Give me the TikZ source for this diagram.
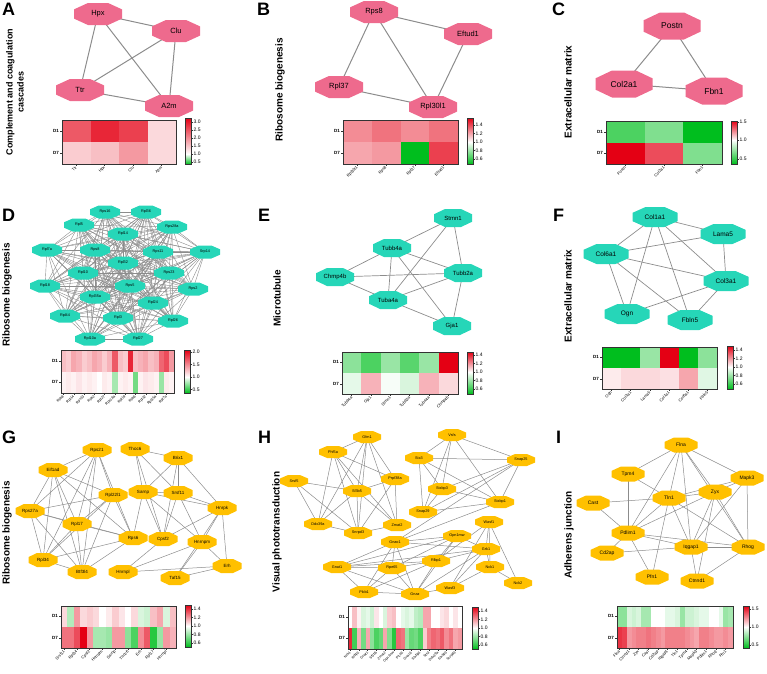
\documentclass[tikz,border=0pt]{standalone}
\usepackage{fontspec}
\setmainfont{Liberation Sans}
\usetikzlibrary{calc,backgrounds}

\definecolor{pinkc}{RGB}{238,106,141}
\definecolor{tealc}{RGB}{38,214,184}
\definecolor{goldc}{RGB}{255,192,0}
\definecolor{hr}{RGB}{228,0,20}
\definecolor{hg}{RGB}{0,190,30}
\definecolor{edgec}{RGB}{140,140,140}

% octagon drawn inside the node box
\newcommand{\octfill}[1]{%
  \fill[#1]
    ($(path picture bounding box.north west)!.29!(path picture bounding box.north east)$) --
    ($(path picture bounding box.north west)!.71!(path picture bounding box.north east)$) --
    ($(path picture bounding box.north east)!.29!(path picture bounding box.south east)$) --
    ($(path picture bounding box.north east)!.71!(path picture bounding box.south east)$) --
    ($(path picture bounding box.south east)!.29!(path picture bounding box.south west)$) --
    ($(path picture bounding box.south east)!.71!(path picture bounding box.south west)$) --
    ($(path picture bounding box.south west)!.29!(path picture bounding box.north west)$) --
    ($(path picture bounding box.south west)!.71!(path picture bounding box.north west)$) -- cycle;}

% one heatmap row: x0, y0, cell width, cell height, colours
\newcommand{\hmrow}[5]{%
  \foreach \c [count=\i] in {#5}
    \fill[\c] ({#1+(\i-1)*#3},#2) rectangle ++(#3,#4);}

% D1/D7 labels: x0, y of D1, y of D7
\newcommand{\rowlabs}[3]{%
  \draw[frame] ({#1-2},#2) -- (#1,#2) ({#1-2},#3) -- (#1,#3);
  \node[rowlab] at ({#1-3},#2) {D1};
  \node[rowlab] at ({#1-3},#3) {D7};}

% column labels: first x, step, y, labels
\newcommand{\collabs}[4]{%
  \foreach \t [count=\i] in {#4} {
    \draw[frame] ({#1+(\i-1)*#2},#3) -- ++(0,2);
    \node[collab] at ({#1+(\i-1)*#2},{#3+3}) {\t};}}

% colour bar: x, top, white level, bottom
\newcommand{\cbar}[4]{%
  \shade[top color=hr, bottom color=white] (#1,#2) rectangle ({#1+6},#3);
  \shade[top color=white, bottom color=hg] (#1,#3) rectangle ({#1+6},#4);
  \draw[frame] (#1,#2) rectangle ({#1+6},#4);}

% colour bar ticks: x, value/y list
\newcommand{\cbarlabs}[2]{%
  \foreach \v/\y in {#2} {
    \draw[frame] ({#1+6},\y) -- ++(2,0);
    \node[cblab] at ({#1+8},\y) {\v};}}

\tikzset{
  octo/.style={rectangle, inner sep=0pt, path picture={\octfill{#1}}},
  pinkA/.style={octo=pinkc, minimum width=48pt, minimum height=22pt, font=\fontsize{7.5}{8}\selectfont},
  pinkC/.style={octo=pinkc, minimum width=57pt, minimum height=27pt, font=\fontsize{8.5}{9}\selectfont},
  tealD/.style={octo=tealc, minimum width=30pt, minimum height=13pt, font=\fontsize{3.8}{4}\selectfont},
  tealE/.style={octo=tealc, minimum width=38pt, minimum height=18pt, font=\fontsize{6}{7}\selectfont},
  tealF/.style={octo=tealc, minimum width=45pt, minimum height=20pt, font=\fontsize{6.5}{7}\selectfont},
  goldG/.style={octo=goldc, minimum width=29pt, minimum height=14pt, font=\fontsize{4.5}{5}\selectfont},
  goldH/.style={octo=goldc, minimum width=28pt, minimum height=12pt, font=\fontsize{3.8}{4}\selectfont},
  goldI/.style={octo=goldc, minimum width=33pt, minimum height=15pt, font=\fontsize{5}{6}\selectfont},
  edgeA/.style={edgec, line width=1pt},
  edgeB/.style={edgec, line width=0.7pt},
  edgeD/.style={edgec, line width=0.4pt},
  edgeG/.style={edgec, line width=0.5pt},
  frame/.style={black!80, line width=0.6pt},
  letter/.style={anchor=base west, inner sep=0pt, font=\fontsize{18}{18}\selectfont\bfseries},
  title/.style={rotate=90, inner sep=0pt, font=\fontsize{10}{12}\selectfont\bfseries},
  rowlab/.style={anchor=east, inner sep=0pt, font=\fontsize{4.5}{5}\selectfont\bfseries},
  collab/.style={rotate=45, anchor=east, inner sep=0pt, font=\fontsize{4}{5}\selectfont},
  cblab/.style={anchor=west, inner sep=0.5pt, font=\fontsize{5}{6}\selectfont},
}

\begin{document}
\begin{tikzpicture}[x=1pt,y=-1pt]
\useasboundingbox (0,0) rectangle (767,673);

% ---------- A
\node[letter] (labA) at (2,15) {A};
\node[title, align=center, font=\fontsize{9}{11}\selectfont\bfseries] (titA) at (15,92) {Complement and coagulation\\cascades};
\node[pinkA] (aHpx) at (98,14) {Hpx};
\node[pinkA] (aClu) at (176,31) {Clu};
\node[pinkA] (aTtr) at (80,90) {Ttr};
\node[pinkA] (aA2m) at (169,106) {A2m};
\begin{scope}[on background layer]
  \foreach \a/\b in {aHpx/aClu,aHpx/aTtr,aHpx/aA2m,aClu/aTtr,aClu/aA2m,aTtr/aA2m}
    \draw[edgeA] (\a.center) -- (\b.center);
\end{scope}
\hmrow{62}{120}{28.5}{22}{hr!65,hr!85,hr!75,hr!15}
\hmrow{62}{142}{28.5}{22}{hr!20,hr!25,hr!40,hr!15}
\draw[frame] (62,120) rectangle (176,164);
\rowlabs{62}{131}{153}
\collabs{76.25}{28.5}{164}{Ttr,Hpx,Clu,A2m}
\cbar{185}{118}{154}{164}
\cbarlabs{185}{3.0/122,2.5/130,2.0/138,1.5/146,1.0/154,0.5/162}

% ---------- B
\node[letter] (labB) at (257,15) {B};
\node[title] (titB) at (280,90) {Ribosome biogenesis};
\node[pinkA] (bRps8) at (374,12) {Rps8};
\node[pinkA] (bEftud1) at (468,34) {Eftud1};
\node[pinkA] (bRpl37) at (339,87) {Rpl37};
\node[pinkA] (bRpl30l1) at (433,107) {Rpl30l1};
\begin{scope}[on background layer]
  \foreach \a/\b in {bRps8/bEftud1,bRps8/bRpl37,bRps8/bRpl30l1,bEftud1/bRpl30l1,bRpl37/bRpl30l1}
    \draw[edgeA] (\a.center) -- (\b.center);
\end{scope}
\hmrow{343}{120}{28.75}{22}{hr!45,hr!55,hr!45,hr!55}
\hmrow{343}{142}{28.75}{22}{hr!35,hr!40,hg,hr!75}
\draw[frame] (343,120) rectangle (458,164);
\rowlabs{343}{131}{153}
\collabs{357.4}{28.75}{164}{Rpl30l1,Rps8,Rpl37,Eftud1}
\cbar{467}{118}{142}{164}
\cbarlabs{467}{1.4/125,1.2/133.5,1.0/142,0.8/150.5,0.6/159}

% ---------- C
\node[letter] (labC) at (552,15) {C};
\node[title] (titC) at (568,92) {Extracellular matrix};
\node[pinkC] (cPostn) at (672,26) {Postn};
\node[pinkC] (cCol2a1) at (624,84) {Col2a1};
\node[pinkC] (cFbn1) at (714,91) {Fbn1};
\begin{scope}[on background layer]
  \foreach \a/\b in {cPostn/cCol2a1,cPostn/cFbn1,cCol2a1/cFbn1}
    \draw[edgeA] (\a.center) -- (\b.center);
\end{scope}
\hmrow{606}{121}{38.67}{21.5}{hg!70,hg!50,hg}
\hmrow{606}{142.5}{38.67}{21.5}{hr,hr!70,hg!50}
\draw[frame] (606,121) rectangle (722,164);
\rowlabs{606}{132}{153}
\collabs{625.3}{38.67}{164}{Postn,Col2a1,Fbn1}
\cbar{731}{121}{140}{164}
\cbarlabs{731}{1.5/122,1.0/140,0.5/159}

% ---------- D
\node[letter] (labD) at (2,221) {D};
\node[title] (titD) at (7,295) {Ribosome biogenesis};
\foreach \t/\x/\y [count=\k] in {Rps16/105/212,Rpl36/146/212,Rpl5/79/225,Rps28a/172/227,
    Rpl14/123/234,Rpl7a/47/250,Rps8/95/250,Rps11/158/252,Srp14/205/252,Rpl32/123/263,
    Rpl10/83/273,Rps23/169/273,Rpl18/45/286,Rps5/130/286,Rps2/193/289,Rpl35a/95/297,
    Rpl24/153/303,Rpl44/65/316,Rpl3/118/318,Rpl26/173/321,Rpl10a/90/339,Rpl27/138/339}
  \node[tealD] (d\k) at (\x,\y) {\t};
\begin{scope}[on background layer]
  \foreach \i in {1,...,22}
    \foreach \j in {1,...,22}
      {\ifnum\i<\j \draw[edgeD] (d\i.center) -- (d\j.center); \fi}
\end{scope}
\hmrow{61}{350}{5.14}{21.5}{hr!25,hr!20,hr!35,hr!30,hr!20,hr!25,hr!35,hr!30,hr!20,hr!30,hr!65,hr!25,hr!20,hr!85,hr!25,hr!30,hr!35,hr!25,hr!30,hr!60,hr!70,hr!40}
\hmrow{61}{371.5}{5.14}{21.5}{hr!5,hr!8,hr!5,hr!10,hr!5,hr!8,hr!5,white,hr!8,hr!5,hg!35,hr!5,hr!8,hr!5,hg!55,hr!5,hr!10,hr!8,hr!5,hg!40,hr!8,hr!5}
\draw[frame] (61,350) rectangle (174,393);
\rowlabs{61}{361}{382}
\begin{scope}[collab/.append style={font=\fontsize{3.6}{4}\selectfont}]
\collabs{63.6}{10.28}{393}{Rps8,Rpl14,Rps13,Rps2,Rpl27,Rps18a,Rpl19,Rps6,Rpl32,Rpl35a,Rpl7a}
\end{scope}
\cbar{184}{350}{377}{393}
\cbarlabs{184}{2.0/352,1.5/364.5,1.0/377,0.5/389.5}

% ---------- E
\node[letter] (labE) at (258,221) {E};
\node[title] (titE) at (277,298) {Microtubule};
\node[tealE] (eStmn1) at (453,218) {Stmn1};
\node[tealE] (eTubb4a) at (392,248) {Tubb4a};
\node[tealE] (eChmp4b) at (335,277) {Chmp4b};
\node[tealE] (eTubb2a) at (463,273) {Tubb2a};
\node[tealE] (eTuba4a) at (388,300) {Tuba4a};
\node[tealE] (eGja1) at (452,326) {Gja1};
\begin{scope}[on background layer]
  \foreach \a/\b in {eStmn1/eTubb4a,eStmn1/eTuba4a,eStmn1/eTubb2a,eTubb4a/eChmp4b,eTubb4a/eTubb2a,
      eTubb4a/eTuba4a,eTubb4a/eGja1,eChmp4b/eTubb2a,eChmp4b/eTuba4a,eTuba4a/eTubb2a,eTuba4a/eGja1,eTubb2a/eGja1}
    \draw[edgeB] (\a.center) -- (\b.center);
\end{scope}
\hmrow{342}{352}{19.33}{21}{hg!45,hg!70,hg!40,hg!65,hg!40,hr}
\hmrow{342}{373}{19.33}{21}{hg!10,hr!30,hg!3,hg!15,hr!30,hr!15}
\draw[frame] (342,352) rectangle (458,394);
\rowlabs{342}{362}{384}
\collabs{351.7}{19.33}{394}{Tubb4a,Gja1,Stmn1,Tubb2a,Tuba4a,Chmp4b}
\cbar{467}{352}{372}{394}
\cbarlabs{467}{1.4/355,1.2/363.5,1.0/372,0.8/380.5,0.6/389}

% ---------- F
\node[letter] (labF) at (553,221) {F};
\node[title] (titF) at (568,296) {Extracellular matrix};
\node[tealF] (fCol1a1) at (655,217) {Col1a1};
\node[tealF] (fLama5) at (723,234) {Lama5};
\node[tealF] (fCol6a1) at (606,254) {Col6a1};
\node[tealF] (fCol3a1) at (726,281) {Col3a1};
\node[tealF] (fOgn) at (627,314) {Ogn};
\node[tealF] (fFbln5) at (690,320) {Fbln5};
\begin{scope}[on background layer]
  \foreach \a/\b in {fCol1a1/fLama5,fCol1a1/fCol6a1,fCol1a1/fCol3a1,fCol1a1/fOgn,fCol1a1/fFbln5,
      fLama5/fCol6a1,fLama5/fCol3a1,fCol6a1/fCol3a1,fCol6a1/fOgn,fCol6a1/fFbln5,fCol3a1/fOgn,fCol3a1/fFbln5}
    \draw[edgeB] (\a.center) -- (\b.center);
\end{scope}
\hmrow{602}{347}{19.17}{21}{hg,hg,hg!40,hr,hg,hg!45}
\hmrow{602}{368}{19.17}{21}{hr!8,hr!15,hr!15,hr!12,hr!35,hg!12}
\draw[frame] (602,347) rectangle (717,389);
\rowlabs{602}{357}{379}
\collabs{611.6}{19.17}{389}{Ogn,Col3a1,Lama5,Col1a1,Col6a1,Fbln5}
\cbar{727}{346}{367}{389}
\cbarlabs{727}{1.4/350,1.2/358.5,1.0/367,0.8/375.5,0.6/384}

% ---------- G
\node[letter] (labG) at (2,443) {G};
\node[title] (titG) at (7,533) {Ribosome biogenesis};
\node[goldG] (gRps21) at (97,450) {Rps21};
\node[goldG] (gThoc6) at (135,449) {Thoc6};
\node[goldG] (gBrix1) at (178,458) {Brix1};
\node[goldG] (gEif1ad) at (53,470) {Eif1ad};
\node[goldG] (gRpl22l1) at (113,495) {Rpl22l1};
\node[goldG] (gSarnp) at (143,492) {Sarnp};
\node[goldG] (gSrsf11) at (178,493) {Srsf11};
\node[goldG] (gHnrpk) at (222,508) {Hnrpk};
\node[goldG] (gRps27a) at (30,511) {Rps27a};
\node[goldG] (gRpl17) at (77,524) {Rpl17};
\node[goldG] (gRps6) at (133,538) {Rps6};
\node[goldG] (gCpsf2) at (163,539) {Cpsf2};
\node[goldG] (gHnrnpm) at (202,542) {Hnrnpm};
\node[goldG] (gRpl34) at (43,560) {Rpl34};
\node[goldG] (gBtf3l4) at (82,572) {Btf3l4};
\node[goldG] (gHnrnpl) at (123,572) {Hnrnpl};
\node[goldG] (gTaf15) at (175,578) {Taf15};
\node[goldG] (gErh) at (227,566) {Erh};
\begin{scope}[on background layer]
  \foreach \a/\b in {gRps21/gEif1ad,gRps21/gRps27a,gRps21/gRpl17,gRps21/gRpl22l1,gRps21/gRps6,gRps21/gRpl34,gRps21/gBtf3l4,
      gEif1ad/gRps27a,gEif1ad/gRpl17,gEif1ad/gRpl22l1,gEif1ad/gRpl34,gEif1ad/gBtf3l4,gEif1ad/gRps6,
      gRpl22l1/gRps27a,gRpl22l1/gRpl17,gRpl22l1/gRpl34,gRpl22l1/gBtf3l4,gRpl22l1/gRps6,
      gRps27a/gRpl17,gRps27a/gRpl34,gRps27a/gBtf3l4,gRps27a/gRps6,
      gRpl17/gRps6,gRpl17/gRpl34,gRpl17/gBtf3l4,gRpl34/gRps6,gRpl34/gBtf3l4,gBtf3l4/gRps6,
      gThoc6/gBrix1,gThoc6/gSarnp,gThoc6/gSrsf11,gThoc6/gCpsf2,
      gBrix1/gSarnp,gBrix1/gSrsf11,gBrix1/gHnrpk,gBrix1/gCpsf2,
      gSarnp/gSrsf11,gSarnp/gCpsf2,gSarnp/gHnrnpm,gSarnp/gRps6,gSarnp/gHnrpk,
      gSrsf11/gCpsf2,gSrsf11/gHnrnpm,gSrsf11/gHnrpk,
      gHnrpk/gHnrnpm,gHnrpk/gCpsf2,gHnrpk/gErh,gHnrpk/gTaf15,
      gHnrnpm/gHnrnpl,gHnrnpm/gTaf15,gHnrnpm/gErh,gCpsf2/gHnrnpl,gHnrnpl/gErh,gTaf15/gErh}
    \draw[edgeG] (\a.center) -- (\b.center);
\end{scope}
\hmrow{61}{606}{6.39}{21}{hr!15,hg!30,hr!40,hr!15,hr!20,hr!15,white,hr!8,hr!20,hr!10,white,hr!15,hg!15,hg!20,hr!25,hr!35,hg!15,hr!25}
\hmrow{61}{627}{6.39}{21}{hr!55,hr!55,hr!70,hr,hr!40,hg!35,hg!35,hg!40,hr!40,hr!40,hg!45,hg!70,hr!45,hr!65,hg!85,hg!40,hr!40,hr!30}
\draw[frame] (61,606) rectangle (176,648);
\rowlabs{61}{616}{638}
\collabs{64.2}{12.78}{648}{Srsf11,Rpl34,Cpsf2,Hnrnpm,Sarnp,Thoc6,Erh,Rpl17,Hnrnpl}
\cbar{185}{605}{626}{647}
\cbarlabs{185}{1.4/609,1.2/617.5,1.0/626,0.8/634.5,0.6/643}

% ---------- H
\node[letter] (labH) at (258,443) {H};
\node[title] (titH) at (277,532) {Visual phototransduction};
\foreach \n/\x/\y in {Gfm1/367/437,Vsfs/452/435,Phf5a/333/452,Stx3/419/458,Snap25/521/460,
    Srsf5/294/481,Sf3b5/357/491,Prpf38a/395/479,Stxbp3/442/489,Stxbp1/500/502,Snap29/423/512,
    Ddx39a/318/524,Snrpd3/358/533,Zmat2/397/525,Wasf1/489/522,Gnao1/395/542,Opn1mw/457/536,
    Grk1/486/549,Gnat1/337/567,Rpe65/392/568,Rlbp1/436/561,Nck1/490/567,Plcb1/364/592,
    Gnaz/415/594,Wasf3/450/588,Nck2/518/583}
  \node[goldH] (h\n) at (\x,\y) {\n};
\begin{scope}[on background layer]
  \foreach \a/\b in {Gfm1/Phf5a,Gfm1/Sf3b5,Gfm1/Snrpd3,Gfm1/Zmat2,Gfm1/Prpf38a,Gfm1/Ddx39a,
      Phf5a/Sf3b5,Phf5a/Prpf38a,Phf5a/Ddx39a,Phf5a/Snrpd3,Phf5a/Zmat2,
      Srsf5/Sf3b5,Srsf5/Ddx39a,Srsf5/Snrpd3,Sf3b5/Prpf38a,Sf3b5/Ddx39a,Sf3b5/Snrpd3,Sf3b5/Zmat2,
      Prpf38a/Snrpd3,Prpf38a/Zmat2,Ddx39a/Snrpd3,Snrpd3/Zmat2,
      Vsfs/Stx3,Vsfs/Stxbp3,Vsfs/Snap29,Vsfs/Snap25,Vsfs/Stxbp1,
      Stx3/Snap25,Stx3/Stxbp3,Stx3/Snap29,Stx3/Stxbp1,
      Snap25/Stxbp3,Snap25/Snap29,Snap25/Stxbp1,Snap25/Gnao1,
      Stxbp3/Snap29,Stxbp1/Snap29,Stxbp1/Stxbp3,Stxbp1/Gnao1,
      Gnao1/Gnat1,Gnao1/Rpe65,Gnao1/Opn1mw,Gnao1/Grk1,Gnao1/Gnaz,Gnao1/Plcb1,
      Opn1mw/Rlbp1,Opn1mw/Grk1,Opn1mw/Rpe65,Opn1mw/Gnat1,Opn1mw/Gnaz,
      Grk1/Wasf1,Grk1/Rlbp1,Grk1/Gnat1,Grk1/Wasf3,Grk1/Gnaz,Grk1/Nck1,
      Wasf1/Nck1,Wasf1/Nck2,Wasf1/Rlbp1,Wasf1/Wasf3,Nck1/Wasf3,Nck1/Nck2,
      Gnat1/Rpe65,Gnat1/Plcb1,Gnat1/Gnaz,Gnat1/Rlbp1,
      Rpe65/Rlbp1,Rpe65/Gnaz,Rpe65/Plcb1,Rlbp1/Gnaz,Rlbp1/Plcb1,Plcb1/Gnaz,Wasf3/Gnaz}
    \draw[edgeG] (h\a.center) -- (h\b.center);
\end{scope}
\hmrow{348}{606}{4.385}{21.5}{white,hr!25,hr!5,hg!15,hg!10,hg!20,hr!10,white,hg!15,hr!20,hr!25,white,hg!10,hg!15,hg!10,hg!25,hg!30,hr!35,hr!35,white,white,hr!10,hr!15,white,hr!10,white}
\hmrow{348}{627.5}{4.385}{21.5}{hr!85,hg!75,hr!30,hg!55,hr!35,hg!45,hg!70,hg!60,hr!35,hg!50,hg!85,hr!60,hr!55,hg!40,hg!60,hg!55,hg!70,hr!20,hr!50,hr!60,hr!55,hr!65,hr!45,hr!55,hr!35,hr!40}
\draw[frame] (348,606) rectangle (462,649);
\rowlabs{348}{617}{638}
\begin{scope}[collab/.append style={font=\fontsize{3.5}{4}\selectfont}]
\collabs{350.2}{8.77}{649}{Nck1,Rlbp1,Gnat1,Sf3b5,Zmat2,Opn1mw,Plcb1,Gnao1,Stxbp1,Stx3,Ddx39a,Stxbp3,Snrpd3}
\end{scope}
\cbar{472}{607}{628}{649}
\cbarlabs{472}{1.4/611,1.2/619.5,1.0/628,0.8/636.5,0.6/645}

% ---------- I
\node[letter] (labI) at (556,443) {I};
\node[title] (titI) at (569,535) {Adherens junction};
\node[goldI] (iFlna) at (681,445) {Flna};
\node[goldI] (iTpm4) at (628,474) {Tpm4};
\node[goldI] (iMapk3) at (747,478) {Mapk3};
\node[goldI] (iCast) at (593,503) {Cast};
\node[goldI] (iTln1) at (669,498) {Tln1};
\node[goldI] (iZyx) at (715,492) {Zyx};
\node[goldI] (iPdlim1) at (628,533) {Pdlim1};
\node[goldI] (iCd2ap) at (607,553) {Cd2ap};
\node[goldI] (iIqgap1) at (691,547) {Iqgap1};
\node[goldI] (iRhog) at (748,547) {Rhog};
\node[goldI] (iPfn1) at (652,577) {Pfn1};
\node[goldI] (iCtnnd1) at (697,581) {Ctnnd1};
\begin{scope}[on background layer]
  \foreach \a/\b in {Flna/Tpm4,Flna/Mapk3,Flna/Tln1,Flna/Zyx,Flna/Pdlim1,Flna/Iqgap1,Flna/Rhog,
      Tpm4/Pdlim1,Tpm4/Tln1,Mapk3/Zyx,Mapk3/Tln1,Mapk3/Rhog,Mapk3/Iqgap1,Cast/Tln1,Cast/Pdlim1,
      Tln1/Zyx,Tln1/Pdlim1,Tln1/Iqgap1,Tln1/Rhog,Tln1/Pfn1,Zyx/Pdlim1,Zyx/Iqgap1,Zyx/Rhog,Zyx/Ctnnd1,
      Pdlim1/Iqgap1,Pdlim1/Rhog,Pdlim1/Cd2ap,Pdlim1/Pfn1,Cd2ap/Iqgap1,Iqgap1/Rhog,Iqgap1/Ctnnd1,Rhog/Ctnnd1}
    \draw[edgeG] (i\a.center) -- (i\b.center);
\end{scope}
\hmrow{617}{606}{4.833}{21}{hg!45,hg!45,hg!15,hg!20,hg!15,hg!35,hg!35,white,white,white,hg!10,hg!10,hg!15,hg!40,hg!20,hg!20,hg!15,hg!10,hg!10,white,white,hg!10,hg!40,hg!35}
\hmrow{617}{627}{4.833}{21}{hr!80,hr!75,hr!40,hr!45,hr!50,hr!50,hr!55,hr!50,hr!45,hr!40,hr!50,hr!50,hr!50,hr!50,hr!45,hr!40,hr!35,hr!50,hr!50,hr!45,hr!40,hr!40,hr!45,hr!40}
\draw[frame] (617,606) rectangle (733,648);
\rowlabs{617}{616}{638}
\collabs{619.4}{9.67}{648}{Flna,Ctnnd1,Zyx,Cast,Cd2ap,Iqgap1,Tln1,Tpm4,Mapk3,Pdlim1,Rhog,Pfn1}
\cbar{743}{606}{627}{648}
\cbarlabs{743}{1.5/609,1.0/627,0.5/645}
\end{tikzpicture}
\end{document}
